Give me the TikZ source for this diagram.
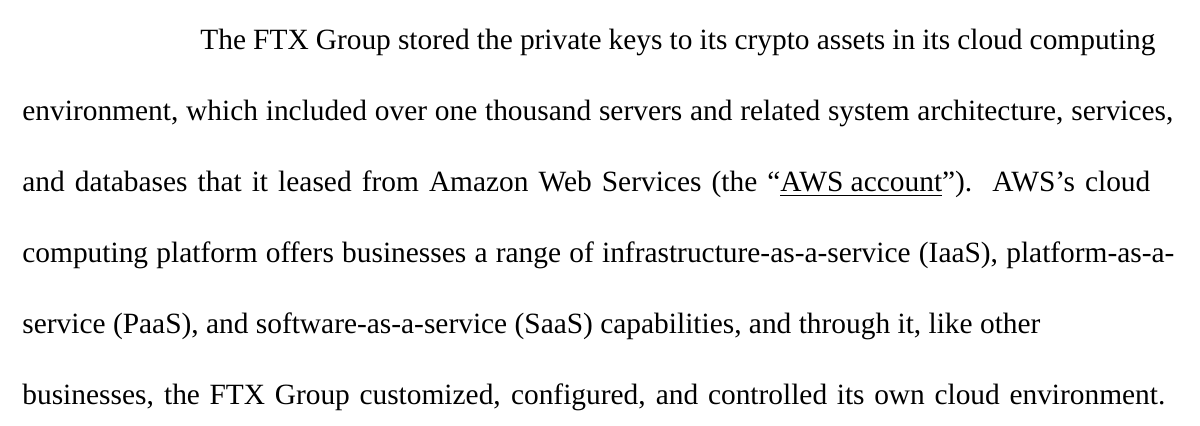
\documentclass[tikz,border=0pt]{standalone}
\usepackage{fontspec}
\setmainfont{Liberation Serif}
\usetikzlibrary{positioning}
\tikzset{textline/.style={anchor=base west,inner sep=0pt,font=\fontsize{14.7}{17}\selectfont}}
\newcommand{\fitline}[2]{\hbox to #1pt{#2}}
\begin{document}
\begin{tikzpicture}[x=1pt,y=1pt]
  \useasboundingbox[fill=white] (0,0) rectangle (600,-213);
  \node[textline] (l1) at (100,-25) {\fitline{477.5}{The FTX Group stored the private keys to its crypto assets in its cloud computing}};
  \node[textline] (l2) at (11,-60.5) {\fitline{575.5}{environment, which included over one thousand servers and related system architecture, services,}};
  \node[textline] (l3) at (11,-96) {\fitline{564}{and databases that it leased from Amazon Web Services (the ``\underline{AWS account}'').\ \ AWS's cloud}};
  \node[textline] (l4) at (11,-131.5) {\fitline{576}{computing platform offers businesses a range of infrastructure-as-a-service (IaaS), platform-as-a-}};
  \node[textline] (l5) at (11,-167) {service (PaaS), and software-as-a-service (SaaS) capabilities, and through it, like other};
  \node[textline] (l6) at (11,-202.5) {\fitline{571.5}{businesses, the FTX Group customized, configured, and controlled its own cloud environment.}};
\end{tikzpicture}
\end{document}
